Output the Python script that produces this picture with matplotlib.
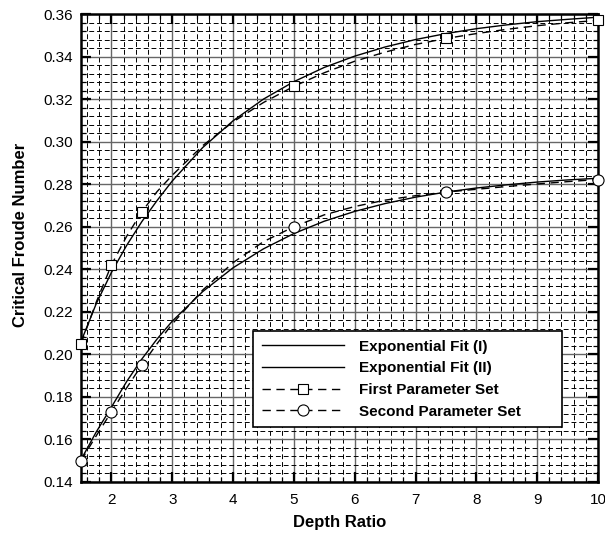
import matplotlib

matplotlib.use("Agg")
import matplotlib.pyplot as plt
from matplotlib.lines import Line2D
from matplotlib.ticker import FormatStrFormatter, MultipleLocator

# ── data ──
PARAM_X = [1.5, 2.0, 2.5, 5.0, 7.5, 10.0]
FIRST_SET_Y = [0.205, 0.242, 0.267, 0.326, 0.3485, 0.357]
SECOND_SET_Y = [0.150, 0.173, 0.195, 0.260, 0.2763, 0.2822]

# curves sampled along the depth ratio axis
CURVE_X = [1.5, 1.75, 2.0, 2.25, 2.5, 2.75, 3.0, 3.5, 4.0, 4.5, 5.0,
           5.5, 6.0, 6.5, 7.0, 7.5, 8.0, 8.5, 9.0, 9.5, 10.0]
FIT_I_Y = [0.206, 0.2238, 0.2385, 0.2512, 0.2624, 0.2723, 0.2815, 0.2972, 0.3098, 0.3200, 0.3282,
           0.3349, 0.3402, 0.3445, 0.3480, 0.3508, 0.3531, 0.3549, 0.3564, 0.3575, 0.3585]
FIT_II_Y = [0.1505, 0.1635, 0.1752, 0.1872, 0.1978, 0.2072, 0.2156, 0.2295, 0.2407, 0.2496, 0.2568,
            0.2626, 0.2672, 0.2709, 0.2739, 0.2763, 0.2782, 0.2797, 0.2810, 0.2820, 0.2828]
FIRST_SET_CURVE_Y = [0.205, 0.2245, 0.242, 0.2555, 0.267, 0.2765, 0.2842, 0.2981, 0.3093, 0.3184, 0.326,
                     0.3324, 0.3378, 0.3421, 0.3457, 0.3485, 0.3508, 0.3528, 0.3545, 0.3559, 0.357]
SECOND_SET_CURVE_Y = [0.150, 0.1617, 0.173, 0.1842, 0.195, 0.2050, 0.2143, 0.2302, 0.2431, 0.2530, 0.260,
                      0.2656, 0.2695, 0.2725, 0.2746, 0.2763, 0.2776, 0.2789, 0.2801, 0.2812, 0.2822]

LABELS = ["Exponential Fit (I)", "Exponential Fit (II)", "First Parameter Set", "Second Parameter Set"]

plt.rcParams["font.family"] = ["Liberation Sans", "DejaVu Sans"]

fig = plt.figure(figsize=(6.05, 5.33), dpi=100)
ax = fig.add_axes([0.1339, 0.0957, 0.8545, 0.878])

dash = (0, (6, 4))
ax.plot(CURVE_X, FIT_I_Y, color="black", lw=1.0, zorder=3)
ax.plot(CURVE_X, FIT_II_Y, color="black", lw=1.0, zorder=3)
ax.plot(CURVE_X, FIRST_SET_CURVE_Y, color="black", lw=1.0, ls=dash, zorder=3)
ax.plot(CURVE_X, SECOND_SET_CURVE_Y, color="black", lw=1.0, ls=dash, zorder=3)
ax.plot(PARAM_X, FIRST_SET_Y, "s", ms=6.5, mfc="white", mec="black", mew=0.8,
        clip_on=False, zorder=4)
ax.plot(PARAM_X, SECOND_SET_Y, "o", ms=8, mfc="white", mec="black", mew=0.8,
        clip_on=False, zorder=4)

ax.set_xlim(1.5, 10)
ax.set_ylim(0.14, 0.36)
ax.xaxis.set_major_locator(MultipleLocator(1))
ax.xaxis.set_minor_locator(MultipleLocator(0.2))
ax.yaxis.set_major_locator(MultipleLocator(0.02))
ax.yaxis.set_minor_locator(MultipleLocator(0.004))
ax.yaxis.set_major_formatter(FormatStrFormatter("%.2f"))

ax.set_axisbelow(True)
ax.grid(which="major", color="#666666", lw=1.0, ls="-")
ax.grid(which="minor", color="black", lw=0.7, ls=(0, (5, 3)))

ax.tick_params(which="both", direction="in", top=True, right=True, labelsize=11)
ax.tick_params(which="major", length=7, width=1.6)
ax.tick_params(axis="y", which="major", pad=6)
ax.tick_params(axis="x", which="major", pad=8)
ax.tick_params(which="minor", length=3.5, width=0.9)
for sp in ax.spines.values():
    sp.set_linewidth(1.8)

ax.set_xlabel("Depth Ratio", fontsize=12, fontweight="bold")
ax.set_ylabel("Critical Froude Number", fontsize=12, fontweight="bold")
ax.xaxis.set_label_coords(0.5, -0.0705)
ax.yaxis.set_label_coords(-0.102, 0.528)

handles = [
    Line2D([], [], color="black", lw=1.0),
    Line2D([], [], color="black", lw=1.0),
    Line2D([], [], color="black", lw=1.0, ls=dash, marker="s", ms=6.5, mfc="white", mec="black", mew=0.8),
    Line2D([], [], color="black", lw=1.0, ls=dash, marker="o", ms=8, mfc="white", mec="black", mew=0.8),
]
leg = ax.legend(handles, LABELS, loc="lower left", bbox_to_anchor=(0.333, 0.1175, 0.598, 0.2),
                mode="expand", fontsize=11, handlelength=5.4, handletextpad=1.0, labelspacing=0.5,
                borderpad=0.55, fancybox=False, framealpha=1, edgecolor="black",
                borderaxespad=0, numpoints=1)
leg.get_frame().set_linewidth(1.2)
for t in leg.get_texts():
    t.set_fontweight("bold")
leg.set_zorder(5)

fig.savefig("out.png", dpi=100)
